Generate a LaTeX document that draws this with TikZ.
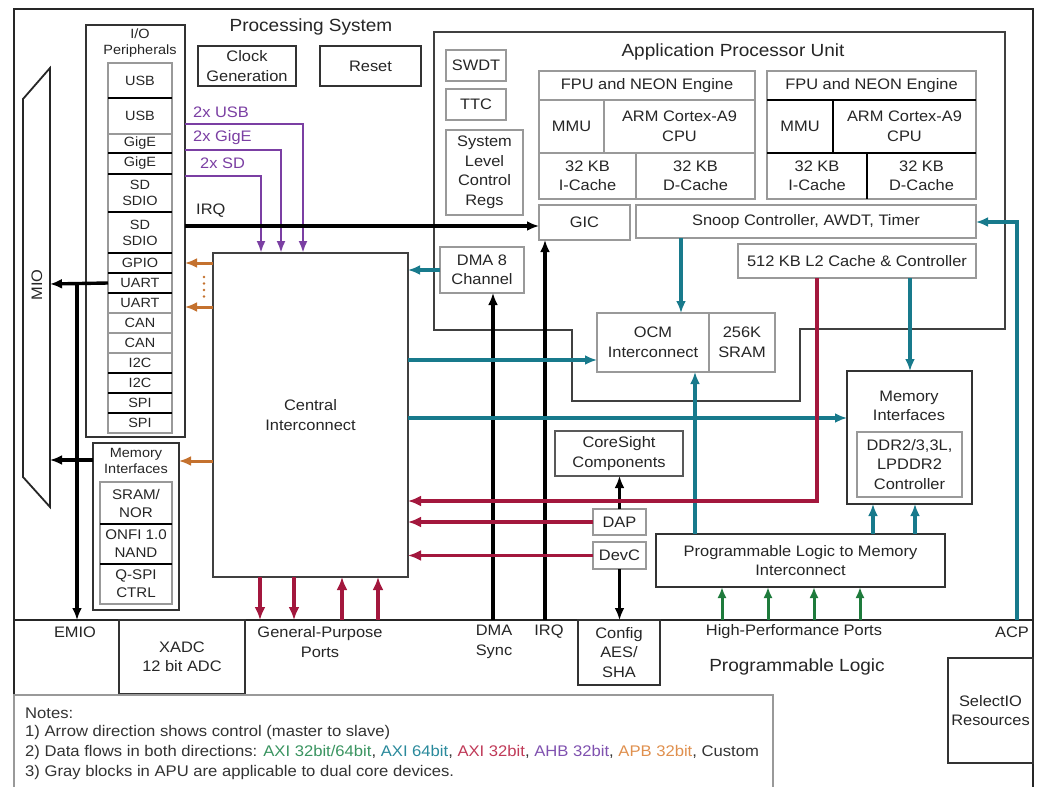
\documentclass[tikz,border=0pt]{standalone}
\usepackage{fontspec}
\setmainfont{Liberation Sans}[FakeStretch=1.08]
\usetikzlibrary{arrows.meta}
\definecolor{tealc}{HTML}{187A8C}
\definecolor{greenc}{HTML}{1E7B3C}
\definecolor{redc}{HTML}{A3173D}
\definecolor{purc}{HTML}{7B3FA3}
\definecolor{orgc}{HTML}{C4712E}
\definecolor{ngreen}{HTML}{3A9460}
\definecolor{nteal}{HTML}{2A8A9C}
\definecolor{nred}{HTML}{C03A58}
\definecolor{npur}{HTML}{8052B0}
\definecolor{norg}{HTML}{E0904E}
\definecolor{txt}{HTML}{262626}
\newcommand{\fT}{\fontsize{17.6}{21}\selectfont}
\newcommand{\fL}{\fontsize{15.2}{19.5}\selectfont}
\newcommand{\fM}{\fontsize{14}{18}\selectfont}
\newcommand{\fS}{\fontsize{13.4}{16}\selectfont}
\newcommand{\fN}{\fontsize{15.4}{20}\selectfont}
% box by corners: style, name, x1, y1, x2, y2, text
\newcommand{\bx}[7]{\node[#1, minimum width={#5-#3}, minimum height={#6-#4}] (#2) at ({(#3+#5)/2},{(#4+#6)/2}) {#7};}
\begin{document}
\begin{tikzpicture}[x=1pt,y=-1pt,
  box/.style={draw=black!80, line width=1.8pt, inner sep=0pt, outer sep=0pt, font=\fL, align=center, text=txt},
  gbox/.style={box, draw=black!40, line width=1.4pt},
  cell/.style={gbox, line width=1.2pt, font=\fS},
  lbl/.style={inner sep=0pt, font=\fL, align=center, text=txt},
  sm/.style={lbl, font=\fS},
  ttl/.style={lbl, font=\fT},
  notetxt/.style={lbl, font=\fN, anchor=west, text=black!80},
  outerline/.style={draw=black!85, line width=2pt},
  sepline/.style={draw=black, line width=1.8pt},
  arr/.style={-{Latex[length=12pt,width=10pt]}},
  blkA/.style={arr, draw=black, line width=3.4pt},
  tealA/.style={arr, draw=tealc, line width=3.4pt},
  redA/.style={arr, draw=redc, line width=3.4pt, -{Latex[length=13pt,width=11pt]}},
  purA/.style={arr, draw=purc, line width=2.8pt, -{Latex[length=12pt,width=9pt]}},
  orgA/.style={arr, draw=orgc, line width=3pt, -{Latex[length=12pt,width=10pt]}},
  grnA/.style={arr, draw=greenc, line width=3pt, -{Latex[length=11pt,width=9pt]}}
]
\useasboundingbox (0,0) rectangle (1045,787);
\fill[white] (0,0) rectangle (1045,787);

% ---------- frames ----------
\draw[outerline] (14,800) -- (14,9) -- (1033,9) -- (1033,800);
\draw[outerline] (14,620) -- (1033,620);
\node[ttl] (pstitle) at (311,27) {Processing System};

% ---------- I/O peripherals ----------
\bx{box}{io}{86}{25}{185}{437}{}
\node[sm] (iotitle) at (140,43) {I/O\\Peripherals};
\foreach \t/\b/\l/\n in {63/98/USB/usb1, 98/134/USB/usb2, 134/153/GigE/gig1, 153/174/GigE/gig2,
  174/212/{SD\\SDIO}/sd1, 212/253/{SD\\SDIO}/sd2, 253/273/GPIO/gpio, 273/293/UART/uart1,
  293/313/UART/uart2, 313/333/CAN/can1, 333/353/CAN/can2, 353/373/I2C/i2c1, 373/393/I2C/i2c2,
  393/413/SPI/spi1, 413/433/SPI/spi2}
  {\bx{cell}{\n}{108}{\t}{172}{\b}{\l}}
\foreach \y in {98,153,174,212,253,273,293,373,393,413}
  \draw[sepline] (108,\y) -- (172,\y);

\bx{box}{clk}{198}{46}{296}{86}{Clock\\Generation}
\bx{box}{rst}{320}{46}{421}{86}{Reset}

% ---------- MIO ----------
\draw[draw=black!85, line width=1.8pt] (23,99) -- (50,68) -- (50,507) -- (23,477) -- cycle;
\node[lbl, rotate=90] (mio) at (37,285) {MIO};

% ---------- APU ----------
\draw[draw=black!75, line width=1.8pt] (434,330) -- (434,32) -- (1005,32) -- (1005,329) -- (800,329)
  -- (800,401) -- (572,401) -- (572,330) -- cycle;
\node[ttl] (aputitle) at (733,52) {Application Processor Unit};

\bx{gbox}{swdt}{446}{50}{506}{81}{SWDT}
\bx{gbox}{ttc}{446}{89}{506}{120}{TTC}
\bx{gbox}{slcr}{446}{130}{523}{215}{System\\Level\\Control\\Regs}

\bx{gbox}{fpu0}{539}{71}{755}{100}{FPU and NEON Engine}
\bx{gbox}{mmu0}{539}{100}{604}{153}{MMU}
\bx{gbox}{arm0}{604}{100}{755}{153}{ARM Cortex-A9\\CPU}
\bx{gbox}{ic0}{539}{153}{636}{199}{32 KB\\I-Cache}
\bx{gbox}{dc0}{636}{153}{755}{199}{32 KB\\D-Cache}

\begin{scope}[every node/.append style={text=black!45}]
\bx{gbox}{fpu1}{767}{71}{976}{100}{FPU and NEON Engine}
\bx{gbox}{mmu1}{767}{100}{833}{153}{MMU}
\bx{gbox}{arm1}{833}{100}{976}{153}{ARM Cortex-A9\\CPU}
\bx{gbox}{ic1}{767}{153}{867}{199}{32 KB\\I-Cache}
\bx{gbox}{dc1}{867}{153}{976}{199}{32 KB\\D-Cache}
\end{scope}
\draw[sepline] (767,100) -- (976,100);
\draw[sepline] (767,153) -- (976,153);
\draw[sepline] (833,100) -- (833,153);
\draw[sepline] (867,153) -- (867,199);

\bx{gbox}{gic}{539}{205}{630}{240}{GIC}
\bx{gbox}{snoop}{636}{205}{976}{238}{Snoop Controller, AWDT, Timer}
\bx{gbox}{l2}{738}{244}{976}{278}{512 KB L2 Cache \& Controller}

% ---------- central area ----------
\bx{gbox}{dma}{440}{247}{524}{293}{DMA 8\\Channel}
\bx{box, draw=black!75}{cent}{213}{253}{408}{577}{Central\\Interconnect}
\bx{gbox}{ocm}{597}{313}{709}{372}{OCM\\Interconnect}
\bx{gbox}{sram}{709}{313}{775}{372}{256K\\SRAM}
\bx{box}{mem}{847}{371}{972}{504}{}
\node[lbl] (memtitle) at (909,406) {Memory\\Interfaces};
\bx{gbox}{ddr}{857}{432}{962}{497}{DDR2/3,3L,\\LPDDR2\\Controller}
\bx{box, draw=black!65, line width=1.6pt}{cs}{555}{431}{683}{476}{CoreSight\\Components}
\bx{gbox}{dap}{593}{509}{646}{535}{DAP}
\bx{gbox}{devc}{593}{542}{646}{569}{DevC}
\bx{box}{plmem}{656}{534}{945}{587}{Programmable Logic to Memory\\Interconnect}

% ---------- left memory interfaces ----------
\bx{box}{lmem}{93}{443}{179}{610}{}
\node[sm] (lmemtitle) at (136,461) {Memory\\Interfaces};
\bx{gbox, font=\fM}{sramnor}{100}{482}{172}{524}{SRAM/\\NOR}
\bx{gbox, font=\fM}{onfi}{100}{524}{172}{564}{ONFI 1.0\\NAND}
\bx{gbox, font=\fM}{qspi}{100}{564}{172}{604}{Q-SPI\\CTRL}
\draw[sepline] (100,524) -- (172,524);
\draw[sepline] (100,564) -- (172,564);

% ---------- programmable logic ----------
\bx{box}{xadc}{119}{620}{245}{694}{XADC\\12 bit ADC}
\bx{box}{cfg}{578}{620}{660}{685}{Config\\AES/\\SHA}
\bx{box}{sio}{948}{658}{1033}{763}{SelectIO\\Resources}
\bx{gbox}{notes}{14}{695}{773}{800}{}

\node[lbl] (lemio) at (75,632) {EMIO};
\node[lbl] (lgp) at (320,642) {General-Purpose\\Ports};
\node[lbl] (ldma) at (494,642) {DMA\\Sync};
\node[lbl] (lirq2) at (549,632) {IRQ};
\node[lbl] (lhp) at (794,632) {High-Performance Ports};
\node[lbl] (lacp) at (1012,632) {ACP};
\node[ttl] (pltitle) at (797,667) {Programmable Logic};

\node[notetxt] (n0) at (25,713) {Notes:};
\node[notetxt] (n1) at (25,733) {1) Arrow direction shows control (master to slave)};
\node[notetxt] (n2) at (25,753) {2) Data flows in both directions: \textcolor{ngreen}{AXI 32bit/64bit}, \textcolor{nteal}{AXI 64bit}, \textcolor{nred}{AXI 32bit}, \textcolor{npur}{AHB 32bit}, \textcolor{norg}{APB 32bit}, Custom};
\node[notetxt] (n3) at (25,773) {3) Gray blocks in APU are applicable to dual core devices.};

% ---------- coordinates ----------
\coordinate (mioR1) at (50,284);
\coordinate (mioR2) at (50,460);
\coordinate (jn) at (77,284);
\coordinate (emio) at (77,620);
\coordinate (gp1) at (260,620);
\coordinate (gp2) at (294,620);
\coordinate (gp3) at (342,620);
\coordinate (gp4) at (378,620);
\coordinate (dsync) at (493,620);
\coordinate (irqpl) at (545,620);
\coordinate (acp) at (1017,620);
\coordinate (hp1) at (722,620);
\coordinate (hp2) at (768,620);
\coordinate (hp3) at (814,620);
\coordinate (hp4) at (860,620);

% ---------- purple ----------
\draw[purA] (io.east |- 0,124) -| (303,0 |- cent.north);
\draw[purA] (io.east |- 0,150) -| (281,0 |- cent.north);
\draw[purA] (io.east |- 0,176) -| (261,0 |- cent.north);
\node[lbl, anchor=west, text=purc] (l2usb) at (193,112) {2x USB};
\node[lbl, anchor=west, text=purc] (l2gig) at (193,138) {2x GigE};
\node[lbl, anchor=west, text=purc] (l2sd) at (200,163) {2x SD};

% ---------- black ----------
\draw[blkA] (io.east |- 0,226) -- (gic.west |- 0,226);
\node[lbl, anchor=west] (lirq) at (196,211) {IRQ};
\draw[blkA] (uart1.west) -- (mioR1);
\draw[blkA] (jn) -- (emio);
\draw[blkA] (lmem.west |- 0,460) -- (mioR2);
\draw[blkA] (dsync) -- (493,0 |- dma.south);
\draw[blkA] (irqpl) -- (545,0 |- gic.south);
\draw[blkA] (dap.north) -- (dap.north |- cs.south);
\draw[blkA] (devc.south) -- (devc.south |- cfg.north);

% ---------- orange ----------
\draw[orgA] (cent.west |- 0,263) -- (io.east |- 0,263);
\draw[orgA] (cent.west |- 0,307) -- (io.east |- 0,307);
\draw[orgA] (cent.west |- 0,461) -- (lmem.east |- 0,461);
\draw[orgc, line width=2.6pt, line cap=round, dash pattern=on 0pt off 6.5pt] (204,277) -- (204,297);

% ---------- teal ----------
\draw[tealA] (dma.west) -- (cent.east |- dma.west);
\draw[tealA] (cent.east |- 0,360) -- (ocm.west |- 0,360);
\draw[tealA] (cent.east |- 0,418) -- (mem.west |- 0,418);
\draw[tealA] (681,0 |- snoop.south) -- (681,0 |- ocm.north);
\draw[tealA] (910,0 |- l2.south) -- (910,0 |- mem.north);
\draw[tealA] (695,0 |- plmem.north) -- (695,0 |- ocm.south);
\draw[tealA] (873,0 |- plmem.north) -- (873,0 |- mem.south);
\draw[tealA] (915,0 |- plmem.north) -- (915,0 |- mem.south);
\draw[tealA] (acp) |- (snoop.east |- 0,222);

% ---------- red ----------
\draw[redA] (817,0 |- l2.south) |- (cent.east |- 0,501);
\draw[redA] (dap.west) -- (cent.east |- dap.west);
\draw[redA] (devc.west) -- (cent.east |- devc.west);
\draw[redA] (260,0 |- cent.south) -- (gp1);
\draw[redA] (294,0 |- cent.south) -- (gp2);
\draw[redA] (gp3) -- (342,0 |- cent.south);
\draw[redA] (gp4) -- (378,0 |- cent.south);

% ---------- green ----------
\draw[grnA] (hp1) -- (hp1 |- plmem.south);
\draw[grnA] (hp2) -- (hp2 |- plmem.south);
\draw[grnA] (hp3) -- (hp3 |- plmem.south);
\draw[grnA] (hp4) -- (hp4 |- plmem.south);
\end{tikzpicture}
\end{document}
